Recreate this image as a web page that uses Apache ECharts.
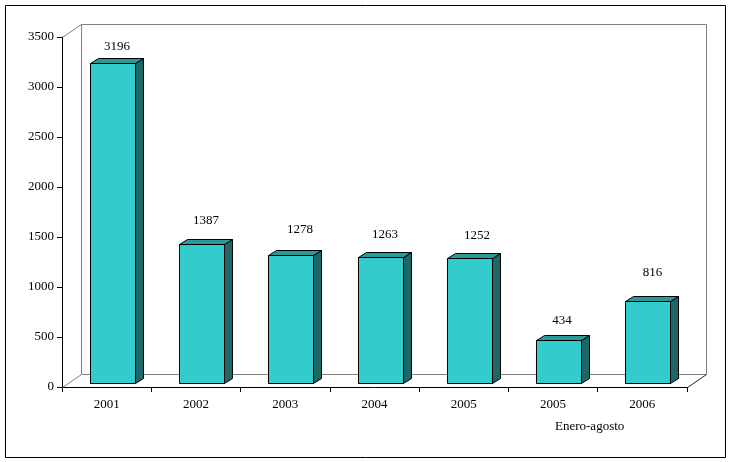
<!DOCTYPE html>
<html>
<head>
<meta charset="utf-8">
<style>html,body{margin:0;padding:0;background:#fff}#c{width:731px;height:462px}</style>
<script src="https://cdn.jsdelivr.net/npm/echarts@6/dist/echarts.min.js"></script>
</head>
<body>
<div id="c"></div>
<script>
var categories = ['2001', '2002', '2003', '2004', '2005', '2005', '2006'];
var values = [3196, 1387, 1278, 1263, 1252, 434, 816];
var note = 'Enero-agosto';

var FONT = '13px "Liberation Serif", serif';
var labelLift = [17, 24, 26, 23, 23, 20, 29];
var labelShift = [4, 4, 9, 4, 7, 3, 4.5];
var WALL_DX = 19, WALL_DY = -13;
var BAR_DX = 5.5, BAR_DY = -4, BAR_W = 45, SIDE_DX = 8, SIDE_DY = -5;
var FRONT = '#33CCCC', TOP = '#2A9999', SIDE = '#1F6666';

function line(pts, color) {
  return { type: 'polyline', shape: { points: pts }, style: { fill: null, stroke: color, lineWidth: 1 }, silent: true };
}

function renderWall(params) {
  var c = params.coordSys;
  var l = c.x + 0.5, r = c.x + c.width + 0.5, t = c.y + 0.5, b = c.y + c.height + 0.5;
  var g = '#808080';
  return { type: 'group', children: [
    line([[l + WALL_DX, b + WALL_DY], [l + WALL_DX, t + WALL_DY], [r + WALL_DX, t + WALL_DY], [r + WALL_DX, b + WALL_DY], [l + WALL_DX, b + WALL_DY]], g),
    line([[l, b], [l + WALL_DX, b + WALL_DY]], g),
    line([[l, t], [l + WALL_DX, t + WALL_DY]], g),
    line([[r, b], [r + WALL_DX, b + WALL_DY]], '#222')
  ]};
}

function renderBar(params, api) {
  var i = params.dataIndex;
  var top = api.coord([api.value(0), api.value(1)]);
  var base = api.coord([api.value(0), 0]);
  var x0 = Math.round(top[0] + BAR_DX - BAR_W / 2) + 0.5;
  var x1 = x0 + BAR_W;
  var y0 = Math.round(top[1] + BAR_DY) + 0.5;
  var y1 = Math.round(base[1] + BAR_DY) + 0.5;
  var border = { stroke: '#000', lineWidth: 1 };
  function face(pts, fill) {
    return { type: 'polygon', shape: { points: pts }, style: Object.assign({ fill: fill }, border) };
  }
  return { type: 'group', children: [
    face([[x1, y0], [x1 + SIDE_DX, y0 + SIDE_DY], [x1 + SIDE_DX, y1 + SIDE_DY], [x1, y1]], SIDE),
    face([[x0, y0], [x0 + SIDE_DX, y0 + SIDE_DY], [x1 + SIDE_DX, y0 + SIDE_DY], [x1, y0]], TOP),
    face([[x0, y0], [x1, y0], [x1, y1], [x0, y1]], FRONT),
    { type: 'text', style: {
        text: String(api.value(1)),
        x: (x0 + x1) / 2 + labelShift[i],
        y: y0 - labelLift[i],
        align: 'center', verticalAlign: 'middle',
        font: FONT, fill: '#000'
      } }
  ]};
}

var chart = echarts.init(document.getElementById('c'), null, { renderer: 'canvas' });
chart.setOption({
  animation: false,
  backgroundColor: '#fff',
  grid: { left: 62, right: 44, top: 37, bottom: 75, containLabel: false },
  textStyle: { fontFamily: '"Liberation Serif", serif' },
  xAxis: {
    type: 'category',
    data: categories,
    boundaryGap: true,
    axisLine: { show: true, lineStyle: { color: '#000', width: 1 } },
    axisTick: { show: true, alignWithLabel: false, interval: 0, length: 5, inside: false, lineStyle: { color: '#000', width: 1 } },
    axisLabel: { color: '#000', fontSize: 13, margin: 11, interval: 0, fontFamily: '"Liberation Serif", serif' },
    splitLine: { show: false }
  },
  yAxis: {
    type: 'value',
    min: 0, max: 3500, interval: 500,
    axisLine: { show: true, lineStyle: { color: '#000', width: 1 } },
    axisTick: { show: true, length: 5, lineStyle: { color: '#000' } },
    axisLabel: { color: '#000', fontSize: 13, margin: 8, fontFamily: '"Liberation Serif", serif',
      formatter: function (v) { return String(v); } },
    splitLine: { show: false }
  },
  graphic: [
    { type: 'rect', left: 5, top: 5, z: -1, silent: true,
      shape: { x: 0, y: 0, width: 720, height: 452 },
      style: { fill: 'rgba(0,0,0,0)', stroke: '#000', lineWidth: 1 } },
    { type: 'text', left: 555, top: 420, silent: true,
      style: { text: note, font: FONT, fill: '#000' } }
  ],
  series: [
    { type: 'custom', renderItem: renderWall, data: [0], silent: true, z: 1, clip: false },
    { type: 'custom', renderItem: renderBar, data: values.map(function (v, i) { return [i, v]; }),
      encode: { x: 0, y: 1 }, silent: true, z: 2, clip: false }
  ]
});
</script>
</body>
</html>
